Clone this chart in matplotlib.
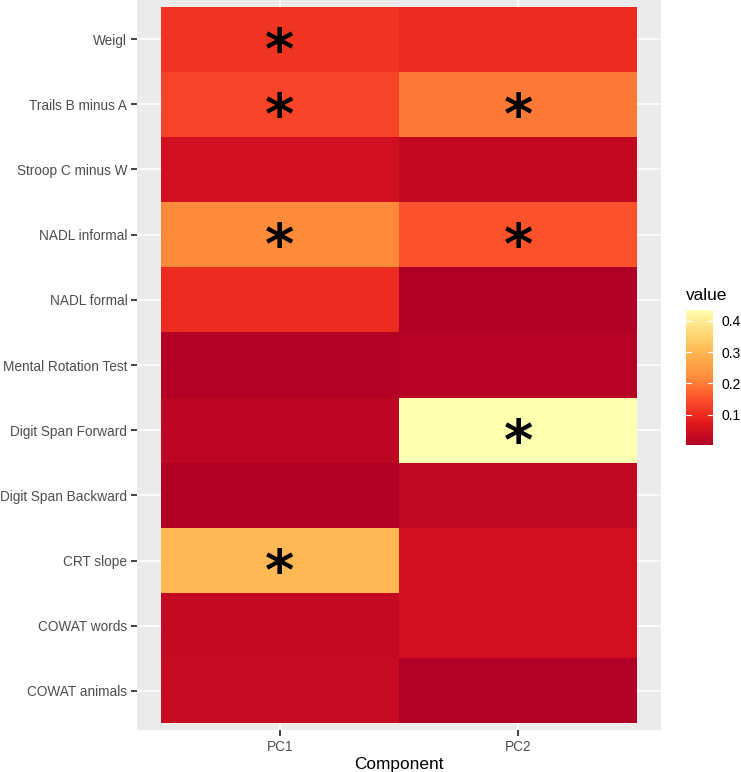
import numpy as np
import matplotlib
matplotlib.use("Agg")
from matplotlib import pyplot as plt
from matplotlib.colors import LinearSegmentedColormap, Normalize
from matplotlib.textpath import TextPath
from matplotlib.font_manager import FontProperties
import matplotlib.transforms as mtransforms

plt.rcParams['font.family'] = ['Liberation Sans', 'DejaVu Sans']

# tests listed from top to bottom
tests = ['Weigl', 'Trails B minus A', 'Stroop C minus W', 'NADL informal', 'NADL formal',
         'Mental Rotation Test', 'Digit Span Forward', 'Digit Span Backward', 'CRT slope',
         'COWAT words', 'COWAT animals']
components = ['PC1', 'PC2']

pc1 = [0.112, 0.132, 0.048, 0.215, 0.100, 0.008, 0.020, 0.003, 0.305, 0.030, 0.035]
pc2 = [0.099, 0.197, 0.029, 0.152, 0.004, 0.010, 0.435, 0.028, 0.048, 0.048, 0.006]

sig_pc1 = [True, True, False, True, False, False, False, False, True, False, False]
sig_pc2 = [False, True, False, True, False, False, True, False, False, False, False]

# brewer YlOrRd (7), reversed like scale_fill_distiller
ylorrd7 = ['#FFFFB2', '#FED976', '#FEB24C', '#FD8D3C', '#FC4E2A', '#E31A1C', '#B10026']
cmap = LinearSegmentedColormap.from_list('ylorrd_r', ylorrd7[::-1])

values = np.column_stack([pc1, pc2])[::-1]   # bottom row first
sig = np.column_stack([sig_pc1, sig_pc2])[::-1]
norm = Normalize(vmin=values.min(), vmax=values.max())

fig = plt.figure(figsize=(7.41, 7.72), dpi=100)
ax = fig.add_axes([137 / 741, 1 - 730 / 772, (661 - 137) / 741, 730 / 772])
ax.set_facecolor('#EBEBEB')

nrow = len(tests)
xs = np.arange(1, 3)
ys = np.arange(1, nrow + 1)

# grid lines
for y in ys:
    ax.axhline(y, color='white', lw=1.1, zorder=0)
for x in xs:
    ax.axvline(x, color='white', lw=1.1, zorder=0)

ax.pcolormesh(np.arange(0.5, 3.0, 1.0), np.arange(0.5, nrow + 1.0, 1.0), values,
              cmap=cmap, norm=norm, zorder=1)

# asterisks, sized and centred on the glyph itself (~25 px tall)
star_font = 'DejaVu Sans'
ext1 = TextPath((0, 0), '*', size=1,
                prop=FontProperties(family=star_font, weight='bold')).get_extents()
fs = 26 * 0.72 / ext1.height
dy = -(ext1.y0 + ext1.y1) / 2 * fs / 72.0
dx = -(ext1.x0 + ext1.x1) / 2 * fs / 72.0
off = mtransforms.ScaledTranslation(dx, dy, fig.dpi_scale_trans)
for i in range(nrow):
    for j in range(2):
        if sig[i, j]:
            ax.text(xs[j], ys[i], '*', fontsize=fs, family=star_font, fontweight='bold',
                    ha='left', va='baseline', color='black',
                    transform=ax.transData + off, zorder=3)

ax.set_xlim(0.4, 2.6)
ax.set_ylim(0.4, nrow + 0.6)
ax.set_xticks(xs)
ax.set_xticklabels(components)
ax.set_yticks(ys)
ax.set_yticklabels(tests[::-1])
ax.tick_params(axis='both', length=4, width=1.3, color='#333333',
               labelcolor='#4D4D4D', labelsize=9.8, pad=3)
for s in ax.spines.values():
    s.set_visible(False)
ax.set_xlabel('Component', fontsize=12.4, labelpad=2)

# legend colourbar
cax = fig.add_axes([686 / 741, 1 - 445 / 772, 27 / 741, 135 / 772])
cb = fig.colorbar(plt.cm.ScalarMappable(norm=norm, cmap=cmap), cax=cax)
cb.outline.set_visible(False)
cb.set_ticks([0.1, 0.2, 0.3, 0.4])
cb.ax.tick_params(length=0, labelsize=10, pad=6)
for t in [0.1, 0.2, 0.3, 0.4]:
    cax.plot([0, 0.2], [t, t], color='white', lw=0.8, transform=cax.get_yaxis_transform())
    cax.plot([0.8, 1.0], [t, t], color='white', lw=0.8, transform=cax.get_yaxis_transform())
fig.text(686 / 741, 1 - 295 / 772, 'value', fontsize=12.4, ha='left', va='center')

fig.savefig('out.png', dpi=100)
